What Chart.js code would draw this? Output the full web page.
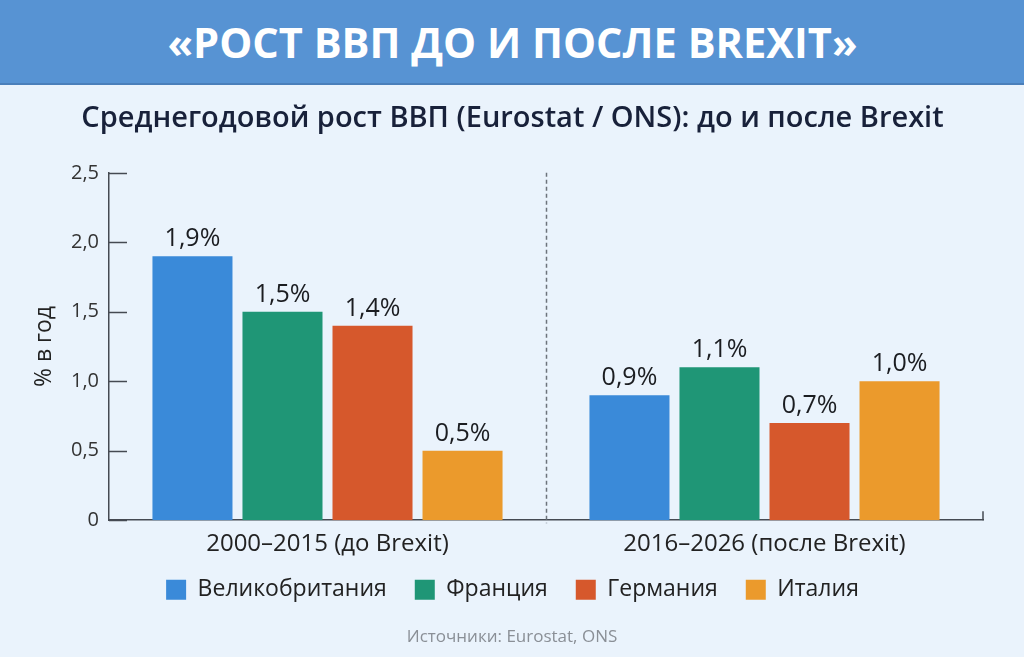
<!DOCTYPE html>
<html>
<head>
<meta charset="utf-8">
<script src="https://cdn.jsdelivr.net/npm/chart.js@4.4.1/dist/chart.umd.min.js"></script>
<style>
  html, body { margin: 0; padding: 0; }
  body { width: 1024px; height: 657px; background: #eaf3fc; position: relative; overflow: hidden; font-family: 'Open Sans', sans-serif; }
  #banner { position: absolute; left: 0; top: 0; width: 1024px; height: 83px; background: #5793d3; border-bottom: 2px solid #4a7fba; }
  #bannerText { position: absolute; left: 0; top: 0; width: 1024px; height: 83px; line-height: 83px; text-align: center; color: #fff; font-weight: 700; font-size: 42px; white-space: nowrap; }
  #bannerText span { display: inline-block; transform-origin: center; }
  #wrap { position: absolute; left: 0; top: 85px; width: 1024px; height: 572px; }
  #source { position: absolute; left: 0; width: 1024px; top: 626px; line-height: 20px; text-align: center; color: #8a8f96; font-size: 17px; }
</style>
</head>
<body>
<div id="banner"></div>
<div id="bannerText"><span id="bt">«РОСТ ВВП ДО И ПОСЛЕ BREXIT»</span></div>
<div id="wrap"><canvas id="myChart"></canvas></div>
<div id="source">Источники: Eurostat, ONS</div>
<script>
// data
let periods = ['2000–2015 (до Brexit)', '2016–2026 (после Brexit)'];
let countries = ['Великобритания', 'Франция', 'Германия', 'Италия'];
let ukValues = [1.9, 0.9];
let frValues = [1.5, 1.1];
let deValues = [1.4, 0.7];
let itValues = [0.5, 1.0];
let countryColors = ['#3a8ad9', '#1f9676', '#d6582c', '#eb9a2c'];
let yTicks = [0, 0.5, 1.0, 1.5, 2.0, 2.5];

// squeeze banner text to its width in the picture
let bt = document.getElementById('bt');
bt.style.transform = 'scaleX(' + (690 / bt.offsetWidth) + ')';

let fmt = v => v === 0 ? '0' : v.toFixed(1).replace('.', ',');

let extras = {
    id: 'extras',
    afterLayout(chart) {
        // pull the legend up closer to the axis labels
        let lg = chart.legend;
        let h = lg.height;
        lg.top = chart.chartArea.bottom + 30;
        lg.bottom = lg.top + h;
    },
    afterDatasetsDraw(chart) {
        let ctx = chart.ctx;
        let area = chart.chartArea;
        let y = chart.scales.y;
        let x = chart.scales.x;

        ctx.save();
        // inward ticks on y axis
        ctx.strokeStyle = '#454a52';
        ctx.lineWidth = 1.5;
        yTicks.forEach(v => {
            let py = Math.round(y.getPixelForValue(v)) + 0.5;
            ctx.beginPath();
            ctx.moveTo(area.left, py);
            ctx.lineTo(area.left + 18, py);
            ctx.stroke();
        });
        // small end tick on x axis
        ctx.beginPath();
        ctx.moveTo(area.right, area.bottom);
        ctx.lineTo(area.right, area.bottom - 9);
        ctx.stroke();

        // dashed separator between periods
        let sx = Math.round((x.getPixelForTick(0) + x.getPixelForTick(1)) / 2) + 0.5;
        ctx.strokeStyle = '#6d737b';
        ctx.setLineDash([4, 3]);
        ctx.beginPath();
        ctx.moveTo(sx, area.top);
        ctx.lineTo(sx, area.bottom + 3);
        ctx.stroke();
        ctx.setLineDash([]);

        // value labels
        ctx.fillStyle = '#1b1d21';
        ctx.font = '500 25px "Open Sans"';
        ctx.textAlign = 'center';
        ctx.textBaseline = 'alphabetic';
        chart.data.datasets.forEach((ds, i) => {
            chart.getDatasetMeta(i).data.forEach((bar, j) => {
                ctx.fillText(ds.data[j].toFixed(1).replace('.', ',') + '%', bar.x, bar.y - 10);
            });
        });
        ctx.restore();
    }
};

let ctx = document.getElementById('myChart').getContext('2d');
let myChart = new Chart(ctx, {
    type: 'bar',
    data: {
        labels: periods,
        datasets: [
            { label: countries[0], data: ukValues, backgroundColor: countryColors[0] },
            { label: countries[1], data: frValues, backgroundColor: countryColors[1] },
            { label: countries[2], data: deValues, backgroundColor: countryColors[2] },
            { label: countries[3], data: itValues, backgroundColor: countryColors[3] }
        ]
    },
    options: {
        responsive: true,
        maintainAspectRatio: false,
        animation: false,
        layout: { padding: { left: 42, right: 41, top: 0, bottom: 27 } },
        datasets: { bar: { categoryPercentage: 0.824, barPercentage: 0.889 } },
        scales: {
            x: {
                grid: { display: false, drawTicks: false },
                border: { color: '#454a52', width: 1.5 },
                ticks: { color: '#222', font: { family: 'Open Sans', size: 24 }, padding: 10 }
            },
            y: {
                min: 0,
                max: 2.5,
                afterFit: scale => { scale.width = 67; },
                afterBuildTicks: scale => { scale.ticks = yTicks.map(v => ({ value: v })); },
                grid: { display: false, drawTicks: false },
                border: { color: '#454a52', width: 1.5 },
                ticks: { color: '#333', font: { family: 'Open Sans', size: 20 }, padding: 10, callback: v => fmt(v) },
                title: { display: true, text: '% в год', color: '#222', font: { family: 'Open Sans', size: 23 }, padding: { top: -11 } }
            }
        },
        plugins: {
            title: {
                display: true,
                text: 'Среднегодовой рост ВВП (Eurostat / ONS): до и после Brexit',
                color: '#18213a',
                font: { family: 'Open Sans', size: 29, weight: 600 },
                padding: { top: 16, bottom: 37 }
            },
            legend: {
                position: 'bottom',
                labels: {
                    boxWidth: 20,
                    boxHeight: 20,
                    padding: 28,
                    color: '#222',
                    font: { family: 'Open Sans', size: 23 }
                }
            },
            tooltip: { enabled: false }
        }
    },
    plugins: [extras]
});
</script>
</body>
</html>
